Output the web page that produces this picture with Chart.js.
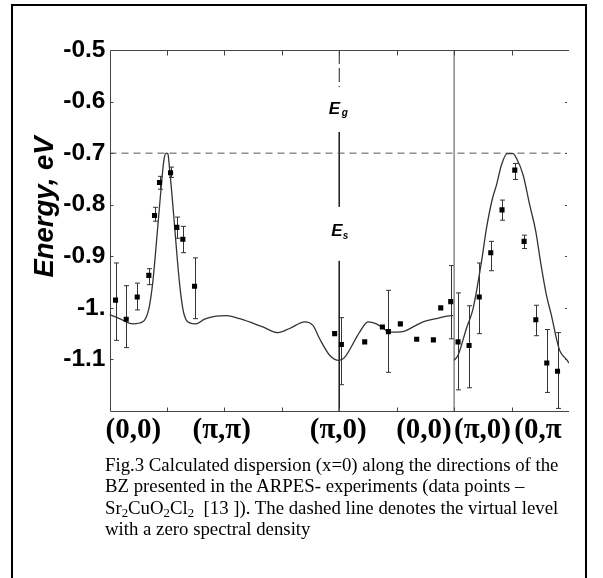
<!DOCTYPE html>
<html>
<head>
<meta charset="utf-8">
<script src="https://cdn.jsdelivr.net/npm/chart.js@4.4.1/dist/chart.umd.min.js"></script>
<style>
html, body { margin: 0; padding: 0; background: #fff; }
#wrap { position: relative; width: 603px; height: 578px; overflow: hidden; }
#frame { position: absolute; left: 11px; top: 4px; width: 572px; height: 600px; border: 2px solid #000; border-bottom: none; }
#chart { position: absolute; left: 0; top: 0; }
#cap { position: absolute; left: 105px; top: 454px; font-family: "Liberation Serif", "Times New Roman", serif;
       font-size: 18.8px; line-height: 21.3px; white-space: nowrap; color: #000; }
#cap sub { font-size: 0.68em; vertical-align: -0.2em; line-height: 0; }
</style>
</head>
<body>
<div id="wrap">
  <div id="frame"></div>
  <canvas id="chart" width="603" height="578"></canvas>
  <div id="cap">Fig.3 Calculated dispersion (x=0) along the directions of the<br>
BZ presented in the ARPES- experiments (data points &ndash;<br>
Sr<sub>2</sub>CuO<sub>2</sub>Cl<sub>2</sub>&nbsp; [13 ]). The dashed line denotes the virtual level<br>
with a zero spectral density</div>
</div>
<script>
// ось x - путь по зоне Бриллюэна в делениях шкалы (0..8)
const xTicks = [0, 1, 2, 3, 4, 5, 6, 7, 8];
const xLabels = ['(0,0)', '(π,π)', '(π,0)', '(0,0)', '(π,0)', '(0,π'];
const xLabelPos = [0.414, 1.953, 3.983, 5.475, 6.494, 7.46];
const yTicks = [-0.5, -0.6, -0.7, -0.8, -0.9, -1.0, -1.1, -1.2];
const yLabels = ['-0.5', '-0.6', '-0.7', '-0.8', '-0.9', '-1.', '-1.1', ''];

// расчётная дисперсия, участок 1
const curveX1 = [0, 0.174, 0.406, 0.580, 0.685, 0.754, 0.793, 0.871, 0.949, 0.988, 1.016, 1.045, 1.115, 1.176,
  1.220, 1.277, 1.324, 1.394, 1.510, 1.655, 1.859, 2.033, 2.265, 2.671, 2.932, 3.136, 3.397, 3.542, 3.659,
  3.833, 3.995, 4.094, 4.355, 4.500, 4.646, 4.761, 4.878, 5.110, 5.284, 5.458, 5.692, 5.953, 5.983];
const curveY1 = [-1.013, -1.021, -1.031, -1.027, -1.002, -0.950, -0.904, -0.803, -0.712, -0.700, -0.701, -0.729,
  -0.817, -0.900, -0.953, -1.002, -1.021, -1.029, -1.031, -1.022, -1.016, -1.015, -1.021, -1.037, -1.048,
  -1.040, -1.027, -1.034, -1.060, -1.092, -1.102, -1.096, -1.047, -1.027, -1.031, -1.039, -1.047, -1.046,
  -1.037, -1.027, -1.021, -1.015, -1.015];
// участок 2
const curveX2 = [5.998, 6.068, 6.214, 6.329, 6.476, 6.563, 6.667, 6.737, 6.824, 6.922, 7.026, 7.085, 7.200,
  7.317, 7.422, 7.509, 7.608, 7.695, 7.782, 7.840, 7.956, 8.0];
const curveY2 = [-1.102, -1.092, -1.040, -1.002, -0.911, -0.846, -0.788, -0.762, -0.723, -0.701, -0.701, -0.710,
  -0.742, -0.801, -0.852, -0.914, -0.976, -1.015, -1.060, -1.083, -1.100, -1.107];

// ARPES точки и погрешности (null - без погрешности)
const ptX = [0.105, 0.291, 0.483, 0.685, 0.784, 0.871, 1.063, 1.172, 1.277, 1.481, 3.920, 4.037, 4.443, 4.751,
  4.855, 5.064, 5.348, 5.639, 5.767, 5.941, 6.068, 6.260, 6.437, 6.638, 6.834, 7.056, 7.218, 7.422, 7.613, 7.800];
const ptY = [-0.985, -1.022, -0.979, -0.937, -0.821, -0.757, -0.738, -0.844, -0.867, -0.958, -1.050, -1.071,
  -1.066, -1.037, -1.046, -1.031, -1.061, -1.062, -1.000, -0.988, -1.066, -1.073, -0.979, -0.893, -0.810,
  -0.733, -0.871, -1.023, -1.107, -1.123];
const errHi = [-0.913, -0.957, -0.952, -0.924, -0.805, -0.745, -0.727, -0.824, -0.842, -0.903, null, -1.019,
  null, null, -0.966, null, null, null, null, -0.918, -0.971, -0.996, -0.913, -0.871, -0.791, -0.720, -0.859,
  -0.995, -1.042, -1.048];
const errLo = [-1.063, -1.077, -1.004, -0.955, -0.832, -0.770, -0.747, -0.865, -0.893, -1.021, null, -1.149,
  null, null, -1.125, null, null, null, null, -1.060, -1.159, -1.155, -1.050, -0.928, -0.830, -0.751, -0.885,
  -1.054, -1.164, -1.195];

const level = -0.7; // виртуальный уровень

function xy(xs, ys) { return xs.map((v, i) => ({x: v, y: ys[i]})); }

const decor = {
  id: 'decor',
  beforeDatasetsDraw(chart) {
    const {ctx, scales: {x, y}} = chart;
    ctx.save();
    ctx.strokeStyle = '#333';
    ctx.lineWidth = 1;
    ptX.forEach((v, i) => {
      if (errHi[i] === null) return;
      const px = Math.round(x.getPixelForValue(v)) + 0.5;
      const y1 = y.getPixelForValue(errHi[i]), y2 = y.getPixelForValue(errLo[i]);
      ctx.beginPath();
      ctx.moveTo(px, y1); ctx.lineTo(px, y2);
      ctx.moveTo(px - 2.5, y1); ctx.lineTo(px + 2.5, y1);
      ctx.moveTo(px - 2.5, y2); ctx.lineTo(px + 2.5, y2);
      ctx.stroke();
    });
    ctx.restore();
  },
  afterDraw(chart) {
    const {ctx, chartArea: a, scales: {x, y}} = chart;
    ctx.save();
    ctx.strokeStyle = '#444';
    ctx.lineWidth = 1;
    const L = Math.round(a.left) + 0.5, T = Math.round(a.top) + 0.5, B = Math.round(a.bottom) + 0.5;
    ctx.beginPath();
    ctx.moveTo(L, T); ctx.lineTo(a.right, T);
    ctx.moveTo(L, T); ctx.lineTo(L, B);
    ctx.moveTo(L, B); ctx.lineTo(a.right, B);
    xTicks.forEach(v => {
      const px = Math.round(x.getPixelForValue(v)) + 0.5;
      if (v > 0 && v < 8) {
        ctx.moveTo(px, T); ctx.lineTo(px, T + 5);
        ctx.moveTo(px, B); ctx.lineTo(px, B - 4);
      }
    });
    yTicks.forEach(v => {
      const py = Math.round(y.getPixelForValue(v)) + 0.5;
      if (v < -0.55 && v > -1.15) {
        ctx.moveTo(L, py); ctx.lineTo(L + 3, py);
        ctx.moveTo(a.right - 4, py); ctx.lineTo(a.right - 2, py);
      }
    });
    ctx.stroke();

    // E_g, E_s
    const x4 = x.getPixelForValue(4);
    ctx.fillStyle = '#000';
    ctx.textAlign = 'left';
    ctx.textBaseline = 'alphabetic';
    ctx.font = 'italic bold 17px "Liberation Sans", Arial';
    ctx.fillText('E', x4 - 10.5, y.getPixelForValue(-0.625));
    ctx.fillText('E', x4 - 8, y.getPixelForValue(-0.86));
    ctx.font = 'italic bold 10px "Liberation Sans", Arial';
    ctx.fillText('g', x4 + 2.5, y.getPixelForValue(-0.628));
    ctx.fillText('s', x4 + 3.5, y.getPixelForValue(-0.866));

    // подпись оси
    ctx.translate(53, 207);
    ctx.rotate(-Math.PI / 2);
    ctx.textAlign = 'center';
    ctx.font = 'italic bold 27.5px "Liberation Sans", Arial';
    ctx.fillText('Energy, eV', 0, 0);
    ctx.restore();
  }
};

new Chart(document.getElementById('chart'), {
  type: 'scatter',
  data: {
    datasets: [
      { data: xy(ptX, ptY), pointStyle: 'rect', pointRadius: 3.6, backgroundColor: '#000', borderWidth: 0 },
      { data: xy(curveX1, curveY1), showLine: true, pointRadius: 0, borderColor: '#333', borderWidth: 1.3,
        cubicInterpolationMode: 'monotone' },
      { data: xy(curveX2, curveY2), showLine: true, pointRadius: 0, borderColor: '#333', borderWidth: 1.3,
        cubicInterpolationMode: 'monotone' },
      { data: [{x: 0, y: level}, {x: 7.95, y: level}], showLine: true, pointRadius: 0, borderColor: '#555',
        borderWidth: 1, borderDash: [7, 5] },
      { data: [{x: 6, y: -0.5}, {x: 6, y: -1.2}], showLine: true, pointRadius: 0, borderColor: '#777', borderWidth: 1.3 },
      { data: [{x: 4, y: -0.5}, {x: 4, y: -0.572}], showLine: true, pointRadius: 0, borderColor: '#222',
        borderWidth: 1, borderDash: [14, 4] },
      { data: [{x: 4, y: -0.659}, {x: 4, y: -0.804}, {x: 4, y: null}, {x: 4, y: -0.909}, {x: 4, y: -1.2}],
        showLine: true, spanGaps: false, pointRadius: 0, borderColor: '#222', borderWidth: 1 }
    ]
  },
  options: {
    responsive: false,
    animation: false,
    devicePixelRatio: 1,
    layout: { padding: { left: 0, top: 50, right: 34, bottom: 0 } },
    plugins: { legend: { display: false }, tooltip: { enabled: false } },
    scales: {
      x: {
        type: 'linear', min: 0, max: 8, position: 'bottom',
        grid: { display: false, drawTicks: false }, border: { display: false },
        ticks: { display: false },
        afterBuildTicks: axis => { axis.ticks = xTicks.map(v => ({value: v})); },
        afterFit: axis => { axis.height = 0; }
      },
      x2: {
        type: 'linear', min: 0, max: 8, position: 'bottom',
        grid: { display: false, drawTicks: false }, border: { display: false },
        ticks: {
          autoSkip: false, maxRotation: 0, padding: 2, color: '#000',
          font: { family: '"Liberation Serif", "Times New Roman", serif', size: 29, weight: 'bold' },
          callback: (v, i) => xLabels[i]
        },
        afterBuildTicks: axis => { axis.ticks = xLabelPos.map(v => ({value: v})); },
        afterFit: axis => { axis.height = 167; }
      },
      y: {
        type: 'linear', min: -1.2, max: -0.5,
        grid: { display: false, drawTicks: false }, border: { display: false },
        ticks: {
          padding: 4, color: '#000',
          font: { family: '"Liberation Sans", Arial', size: 24.5, weight: 'bold' },
          callback: (v, i) => yLabels[yTicks.length - 1 - i]
        },
        afterBuildTicks: axis => { axis.ticks = yTicks.slice().reverse().map(v => ({value: v})); },
        afterFit: axis => { axis.width = 109.5; }
      }
    }
  },
  plugins: [decor]
});
</script>
</body>
</html>
